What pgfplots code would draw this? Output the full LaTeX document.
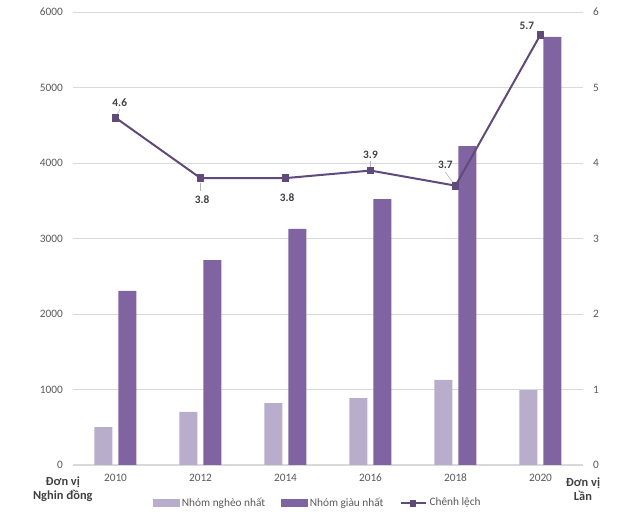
\documentclass[border=0pt]{standalone}
\usepackage{pgfplots}
\pgfplotsset{compat=1.18}
\usepackage{fontspec}
\setmainfont{Carlito}
\definecolor{lightc}{RGB}{184,174,204}
\definecolor{darkc}{RGB}{128,100,162}
\definecolor{linec}{RGB}{96,74,124}
\definecolor{gridc}{RGB}{217,217,217}
\definecolor{tickc}{RGB}{89,89,89}
\definecolor{lblc}{RGB}{64,64,64}
\begin{document}
\begin{tikzpicture}
\useasboundingbox (-54.75pt,-42pt) rectangle (425.25pt,348.75pt);
\pgfplotsset{
  base/.style={
    at={(0,0)}, anchor=south west,
    scale only axis, width=382.5pt, height=339.75pt,
    xmin=-0.5, xmax=5.5,
    axis line style={draw=none},
    major tick style={draw=none},
    tick label style={font=\fontsize{8.5}{10}\selectfont, text=tickc},
    /pgf/number format/assume math mode=true,
    /pgf/number format/1000 sep={},
  }
}
\begin{axis}[base,
  ymin=0, ymax=6000, ytick={0,1000,...,6000},
  ymajorgrids, grid style={gridc, line width=0.6pt},
  xtick={0,...,5}, xticklabels={2010,2012,2014,2016,2018,2020},
  xticklabel style={yshift=-3pt},
  yticklabel style={xshift=-4pt},
  legend style={at={(184pt,-28.5pt)}, anchor=center, draw=none, fill=none,
    legend columns=3, font=\fontsize{8.5}{10}\selectfont, text=tickc,
    /tikz/every even column/.append style={column sep=10pt},
    legend cell align=left},
  clip=false,
]
\draw[gridc, line width=0.8pt] (axis cs:-0.5,0) -- (axis cs:5.5,0);
\addplot[ybar, bar width=13.5pt, bar shift=-9pt, fill=lightc, draw=none, forget plot]
  coordinates {(0,500) (1,702) (2,820) (3,887) (4,1126) (5,993)};
\addplot[ybar, bar width=13.5pt, bar shift=9pt, fill=darkc, draw=none, forget plot]
  coordinates {(0,2305) (1,2715) (2,3126) (3,3523) (4,4225) (5,5669)};
\addlegendimage{legend image code/.code={\fill[lightc] (0pt,-2.8pt) rectangle (19pt,2.8pt);}}
\addlegendentry{Nhóm nghèo nhất}
\addlegendimage{legend image code/.code={\fill[darkc] (0pt,-2.8pt) rectangle (19pt,2.8pt);}}
\addlegendentry{Nhóm giàu nhất}
\addlegendimage{legend image code/.code={\draw[linec, line width=1.5pt] (0pt,0pt) -- (19pt,0pt); \fill[linec] (7pt,-2.2pt) rectangle (11.4pt,2.2pt);}}
\addlegendentry{Chênh lệch}
\node[font=\bfseries\fontsize{9.3}{10.5}\selectfont, text=lblc, align=center] at (axis cs:-0.62,-320) {Đơn vị\\Nghin đồng};
\end{axis}
\begin{axis}[base,
  ymin=0, ymax=6, ytick={0,...,6},
  axis y line*=right,
  xtick=\empty,
  yticklabel style={xshift=4pt},
  clip=false,
]
\addplot[linec, line width=1.5pt, mark=square*, mark size=2.2pt, mark options={fill=linec}]
  coordinates {(0,4.6) (1,3.8) (2,3.8) (3,3.9) (4,3.7) (5,5.7)};
\draw[gray!60, line width=0.4pt] (axis cs:0.02,4.64) -- (axis cs:0.05,4.71);
\draw[gray!60, line width=0.4pt] (axis cs:1.0,3.74) -- (axis cs:1.0,3.63);
\draw[gray!60, line width=0.4pt] (axis cs:3.0,3.94) -- (axis cs:3.0,4.02);
\draw[gray!60, line width=0.4pt] (axis cs:3.97,3.74) -- (axis cs:3.88,3.88);
\begin{scope}[every node/.style={font=\bfseries\fontsize{8.5}{10}\selectfont, text=lblc}]
\node at (axis cs:0.05,4.80) {4.6};
\node at (axis cs:1.02,3.52) {3.8};
\node at (axis cs:2.02,3.54) {3.8};
\node at (axis cs:3.0,4.11) {3.9};
\node at (axis cs:3.88,3.98) {3.7};
\node at (axis cs:4.84,5.82) {5.7};
\end{scope}
\node[font=\bfseries\fontsize{9.3}{10.5}\selectfont, text=lblc, align=center] at (axis cs:5.5,-0.32) {Đơn vị\\Lần};
\end{axis}
\end{tikzpicture}
\end{document}
